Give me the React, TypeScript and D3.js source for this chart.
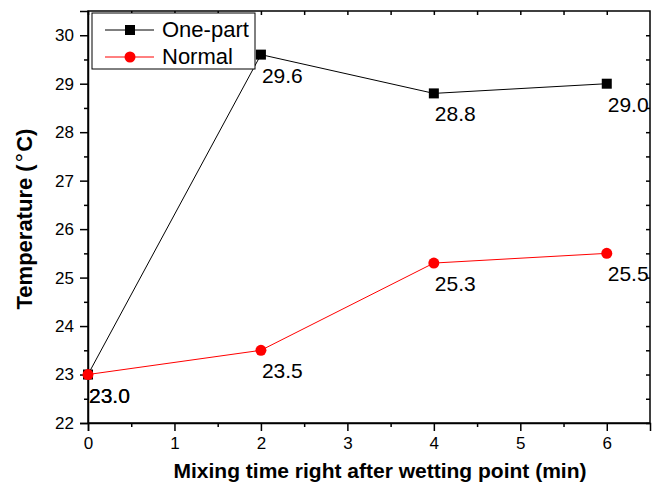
import * as d3 from 'd3';
import { useEffect, useRef } from 'react';

const times = [0, 2, 4, 6];
const onePart = [23.0, 29.6, 28.8, 29.0];
const normal = [23.0, 23.5, 25.3, 25.5];
const xTicks = [0, 1, 2, 3, 4, 5, 6];
const yTicks = [22, 23, 24, 25, 26, 27, 28, 29, 30];
const seriesNames = ['One-part', 'Normal'];

const FONT = '"Liberation Sans", Arial, sans-serif';

export default function App() {
  const ref = useRef<SVGSVGElement>(null);

  useEffect(() => {
    const margin = { top: 11, right: 2, bottom: 67, left: 88 };
    const width = 652 - margin.left - margin.right;
    const height = 490 - margin.top - margin.bottom;

    const svg = d3.select(ref.current);
    svg.selectAll('*').remove();

    const g = svg.append('g').attr('transform', `translate(${margin.left},${margin.top})`);

    const x = d3.scaleLinear().domain([0, 6.5]).range([0, width]);
    const y = d3.scaleLinear().domain([22, 30.5]).range([height, 0]);

    // frame
    g.append('rect')
      .attr('width', width).attr('height', height)
      .attr('fill', 'none').attr('stroke', '#000').attr('stroke-width', 1.5);

    // bottom axis, major + minor ticks
    const xAxis = g.append('g').attr('transform', `translate(0,${height})`)
      .call(d3.axisBottom(x).tickValues(xTicks).tickSize(8).tickFormat(d3.format('d')));
    g.append('g').attr('transform', `translate(0,${height})`)
      .call(d3.axisBottom(x).tickValues(d3.range(0.5, 6.5, 1)).tickSize(4).tickFormat(() => ''))
      .select('.domain').remove();
    xAxis.selectAll('text').attr('dy', '0.9em');

    // left axis
    const yAxis = g.append('g')
      .call(d3.axisLeft(y).tickValues(yTicks).tickSize(8).tickFormat(d3.format('d')));
    g.append('g')
      .call(d3.axisLeft(y).tickValues(d3.range(22.5, 30.5, 1)).tickSize(4).tickFormat(() => ''))
      .select('.domain').remove();
    yAxis.selectAll('text').attr('x', -14);

    // top and right mirror ticks (inward)
    g.append('g')
      .call(d3.axisTop(x).tickValues(d3.range(0, 6.5, 0.5)).tickSizeInner(-4).tickSizeOuter(0).tickFormat(() => ''))
      .select('.domain').remove();
    g.append('g').attr('transform', `translate(${width},0)`)
      .call(d3.axisRight(y).tickValues(d3.range(22, 30.5, 0.5)).tickSizeInner(-4).tickSizeOuter(0).tickFormat(() => ''))
      .select('.domain').remove();

    g.selectAll('.tick line').attr('stroke', '#000').attr('stroke-width', 1.5);
    g.selectAll('.domain').attr('stroke', '#000').attr('stroke-width', 1.5);
    g.selectAll('.tick text').attr('font-family', FONT).attr('font-size', 17).attr('fill', '#000');

    const line = d3.line<number>().x((_, i) => x(times[i])).y(d => y(d));

    // series
    g.append('path').datum(onePart).attr('d', line)
      .attr('fill', 'none').attr('stroke', '#000').attr('stroke-width', 1);
    g.append('path').datum(normal).attr('d', line)
      .attr('fill', 'none').attr('stroke', '#ff0000').attr('stroke-width', 1);

    g.selectAll('.sq').data(onePart).enter().append('rect')
      .attr('x', (_, i) => x(times[i]) - 5).attr('y', d => y(d) - 5)
      .attr('width', 10).attr('height', 10).attr('fill', '#000');
    g.selectAll('.ci').data(normal).enter().append('circle')
      .attr('cx', (_, i) => x(times[i])).attr('cy', d => y(d)).attr('r', 5.5)
      .attr('fill', '#ff0000');

    // value labels
    const labels = (vals: number[]) => {
      g.append('g').selectAll('text').data(vals).enter().append('text')
        .attr('x', (_, i) => x(times[i]) + 1).attr('y', d => y(d) + 28)
        .attr('font-family', FONT).attr('font-size', 21).attr('fill', '#000')
        .text(d => d.toFixed(1));
    };
    labels(onePart);
    labels(normal);

    // legend
    const lg = g.append('g').attr('transform', 'translate(4,2)');
    lg.append('rect').attr('width', 163).attr('height', 56)
      .attr('fill', '#fff').attr('stroke', '#000').attr('stroke-width', 1);
    seriesNames.forEach((name, i) => {
      const cy = 17 + i * 27;
      const col = i === 0 ? '#000' : '#ff0000';
      lg.append('line').attr('x1', 13).attr('x2', 62).attr('y1', cy).attr('y2', cy)
        .attr('stroke', col).attr('stroke-width', 1);
      if (i === 0) {
        lg.append('rect').attr('x', 33).attr('y', cy - 5).attr('width', 10).attr('height', 10).attr('fill', col);
      } else {
        lg.append('circle').attr('cx', 38).attr('cy', cy).attr('r', 5.5).attr('fill', col);
      }
      lg.append('text').attr('x', 70).attr('y', cy + 7)
        .attr('font-family', FONT).attr('font-size', 22).attr('fill', '#000').text(name);
    });

    // axis titles
    svg.append('text')
      .attr('x', 380).attr('y', 478)
      .attr('text-anchor', 'middle').attr('font-family', FONT)
      .attr('font-size', 21).attr('font-weight', 'bold').text('Mixing time right after wetting point (min)');
    const yt = svg.append('text')
      .attr('transform', `translate(32,219) rotate(-90)`)
      .attr('text-anchor', 'middle').attr('font-family', FONT)
      .attr('font-size', 22).attr('font-weight', 'bold');
    yt.append('tspan').text('Temperature (');
    yt.append('tspan').attr('font-weight', 'normal').attr('dx', 2).attr('font-size', 24).text('°');
    yt.append('tspan').attr('dx', 1).text('C)');
  }, []);

  return (
    <svg
      ref={ref}
      width={652}
      height={490}
      style={{ position: 'absolute', left: 0, top: 0, display: 'block', overflow: 'visible' }}
    />
  );
}
